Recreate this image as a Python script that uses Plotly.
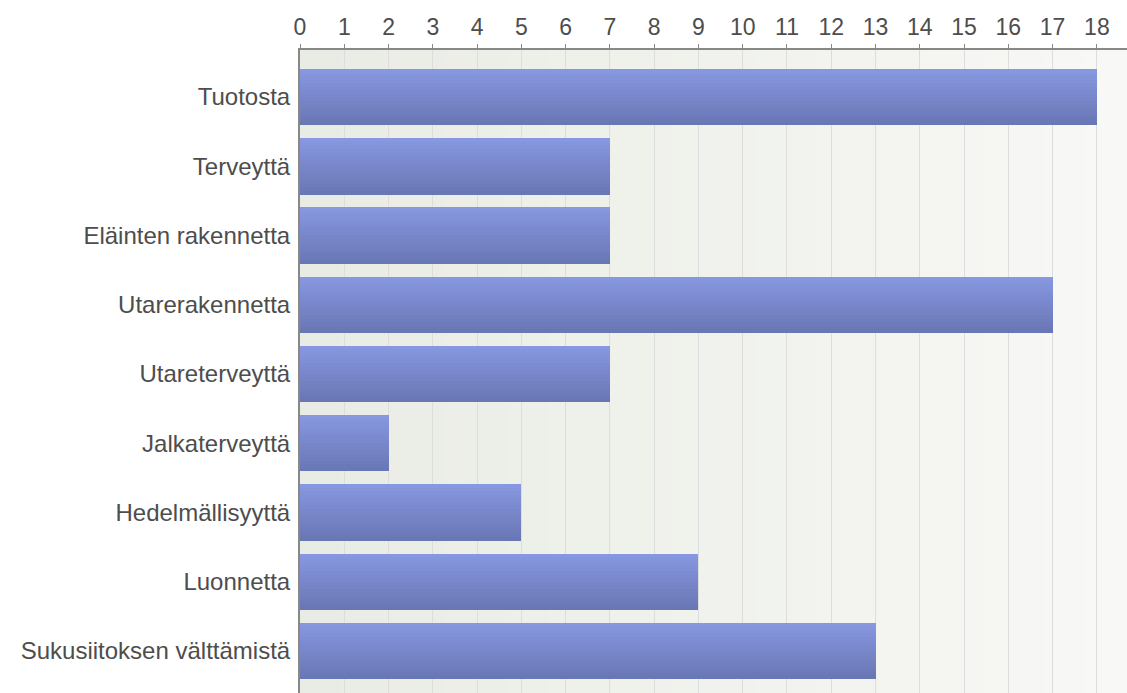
import plotly.graph_objects as go

categories = ["Tuotosta", "Terveyttä", "Eläinten rakennetta", "Utarerakennetta",
              "Utareterveyttä", "Jalkaterveyttä", "Hedelmällisyyttä", "Luonnetta",
              "Sukusiitoksen välttämistä"]
values = [18, 7, 7, 17, 7, 2, 5, 9, 13]
x_ticks = list(range(0, 19))

X_MAX = 18.68
BAR_W = 0.81
N_STRIPS = 16

def lerp(c1, c2, t):
    a = [int(c1[i:i+2], 16) for i in (1, 3, 5)]
    b = [int(c2[i:i+2], 16) for i in (1, 3, 5)]
    return "#%02x%02x%02x" % tuple(round(a[k] + (b[k] - a[k]) * t) for k in range(3))

ypos = list(range(len(categories)))
fig = go.Figure()
sw = BAR_W / N_STRIPS
for i in range(N_STRIPS):
    t = i / (N_STRIPS - 1)
    fig.add_trace(go.Bar(
        x=values, y=ypos, orientation="h",
        width=sw * 1.08, offset=-BAR_W / 2 + i * sw,
        marker=dict(color=lerp("#8797e0", "#6a77b5", t), line=dict(width=0)),
        showlegend=False, hoverinfo="skip",
    ))

# background horizontal gradient as thin bands
shapes = []
NB = 40
for i in range(NB):
    shapes.append(dict(type="rect", xref="x domain", yref="y domain",
                       x0=i / NB, x1=(i + 1) / NB + 0.002, y0=0, y1=1,
                       fillcolor=lerp("#e9ece4", "#f8f8f6", i / (NB - 1)),
                       line=dict(width=0), layer="below"))

fig.update_layout(
    width=1127, height=693,
    margin=dict(l=300, r=0, t=50, b=0),
    paper_bgcolor="white", plot_bgcolor="#f1f3ee",
    barmode="overlay", bargap=0,
    shapes=shapes,
    font=dict(family="Liberation Sans, Arial, sans-serif", color="#4d4d4d"),
    xaxis=dict(side="top", range=[0, X_MAX], tickvals=x_ticks,
               ticktext=[str(v) for v in x_ticks],
               showgrid=True, gridcolor="#dcdedb", gridwidth=1,
               ticks="outside", ticklen=4, tickcolor="#888888",
               showline=True, linecolor="#888888", linewidth=2,
               tickfont=dict(size=23, color="#4d4d4d"), zeroline=False,
               fixedrange=True),
    yaxis=dict(range=[8.61, -0.68], tickvals=ypos, ticktext=categories,
               showgrid=False, showline=True, linecolor="#888888", linewidth=2,
               ticks="", tickfont=dict(size=24, color="#4d4d4d"),
               zeroline=False, fixedrange=True, ticklabelstandoff=3),
)

fig.write_html(
    "out.html",
    config={"displayModeBar": False},
    post_script="document.body.style.margin='0';document.body.style.overflow='hidden';",
)
